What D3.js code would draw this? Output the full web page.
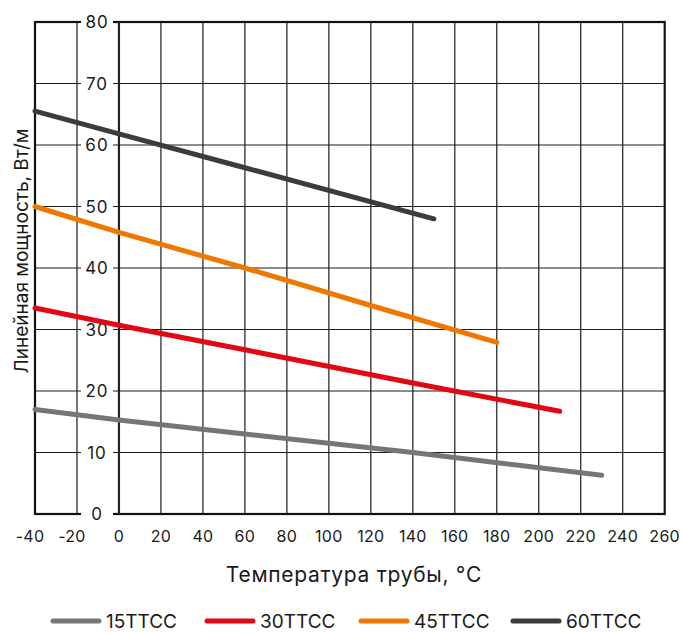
<!DOCTYPE html>
<html>
<head>
<meta charset="utf-8">
<script src="https://cdn.jsdelivr.net/npm/d3@7"></script>
<style>
  html, body { margin: 0; padding: 0; background: #fff; }
  svg { display: block; font-family: Inter, "Noto Sans", sans-serif; }
</style>
</head>
<body>
<svg id="chart" width="681" height="633"></svg>
<script>
// Linear heat output of heating cable vs pipe temperature
const xTicks = [-40, -20, 0, 20, 40, 60, 80, 100, 120, 140, 160, 180, 200, 220, 240, 260];
const yTicks = [0, 10, 20, 30, 40, 50, 60, 70, 80];

const seriesNames = ["15TTCC", "30TTCC", "45TTCC", "60TTCC"];
const seriesColors = ["#767676", "#e30613", "#f07800", "#3c3c3c"];

// [temperature °C, W/m]
const s15 = [[-40, 17.0], [0, 15.3], [60, 13.0], [140, 10.0], [230, 6.3]];
const s30 = [[-40, 33.5], [0, 30.7], [60, 26.7], [140, 21.3], [210, 16.7]];
const s45 = [[-40, 50.0], [0, 45.8], [60, 40.0], [120, 33.9], [180, 27.9]];
const s60 = [[-40, 65.5], [0, 61.8], [60, 56.3], [150, 48.0]];
const seriesData = [s15, s30, s45, s60];

const svg = d3.select("#chart");
const x = d3.scaleLinear().domain([-40, 260]).range([35, 664.7]);
const y = d3.scaleLinear().domain([0, 80]).range([514, 22]);

const grid = svg.append("g");
// vertical grid lines
grid.selectAll("line.v")
  .data(xTicks.filter(t => t !== -40 && t !== 0 && t !== 260))
  .join("line")
  .attr("x1", d => x(d)).attr("x2", d => x(d))
  .attr("y1", y(0)).attr("y2", y(80))
  .attr("stroke", "#1a1a1a").attr("stroke-width", 1.2);
// horizontal grid lines
grid.selectAll("line.h")
  .data(yTicks.filter(t => t !== 0 && t !== 80))
  .join("line")
  .attr("x1", x(-40)).attr("x2", x(260))
  .attr("y1", d => y(d)).attr("y2", d => y(d))
  .attr("stroke", "#1a1a1a").attr("stroke-width", 1.2);

// frame
svg.append("rect")
  .attr("x", x(-40)).attr("y", y(80))
  .attr("width", x(260) - x(-40)).attr("height", y(0) - y(80))
  .attr("fill", "none").attr("stroke", "#111").attr("stroke-width", 2.2);

// vertical axis through 0 °C
svg.append("line")
  .attr("x1", x(0)).attr("x2", x(0))
  .attr("y1", y(0)).attr("y2", y(80))
  .attr("stroke", "#222").attr("stroke-width", 2.2);

// Y tick labels on white boxes left of the 0 °C axis
const yLab = svg.append("g");
yLab.selectAll("rect")
  .data(yTicks)
  .join("rect")
  .attr("x", 81).attr("y", d => y(d) - 8)
  .attr("width", 32).attr("height", 16)
  .attr("fill", "#fff");
yLab.selectAll("text")
  .data(yTicks)
  .join("text")
  .attr("x", 97).attr("y", d => y(d))
  .attr("dy", "0.36em")
  .attr("text-anchor", "middle")
  .attr("font-size", 17)
  .attr("letter-spacing", 1)
  .attr("fill", "#1a1a1a")
  .text(d => d);

// X tick labels
svg.append("g").selectAll("text")
  .data(xTicks)
  .join("text")
  .attr("x", d => x(d) + (d < 0 ? -5 : 0))
  .attr("y", 542)
  .attr("text-anchor", "middle")
  .attr("font-size", 16)
  .attr("letter-spacing", 0.3)
  .attr("fill", "#1a1a1a")
  .text(d => d);

// series lines
const line = d3.line().x(d => x(d[0])).y(d => y(d[1]));
svg.append("g").selectAll("path")
  .data(seriesData)
  .join("path")
  .attr("d", d => line(d))
  .attr("fill", "none")
  .attr("stroke", (d, i) => seriesColors[i])
  .attr("stroke-width", 5)
  .attr("stroke-linecap", "round")
  .attr("stroke-linejoin", "round");

// axis titles
svg.append("text")
  .attr("x", 354).attr("y", 582)
  .attr("text-anchor", "middle")
  .attr("font-size", 21)
  .attr("letter-spacing", 0.7)
  .attr("fill", "#1a1a1a")
  .text("Температура трубы, °C");

svg.append("text")
  .attr("transform", "translate(28,251) rotate(-90)")
  .attr("text-anchor", "middle")
  .attr("font-size", 19)
  .attr("fill", "#1a1a1a")
  .text("Линейная мощность, Вт/м");

// legend
const legendX = [53, 207, 361, 513];
const leg = svg.append("g").selectAll("g")
  .data(seriesNames)
  .join("g")
  .attr("transform", (d, i) => `translate(${legendX[i]},621)`);
leg.append("line")
  .attr("x1", 0).attr("x2", 46)
  .attr("stroke", (d, i) => seriesColors[i])
  .attr("stroke-width", 5)
  .attr("stroke-linecap", "round");
leg.append("text")
  .attr("x", 53).attr("dy", "0.36em")
  .attr("font-size", 19)
  .attr("fill", "#1a1a1a")
  .text(d => d);
</script>
</body>
</html>
